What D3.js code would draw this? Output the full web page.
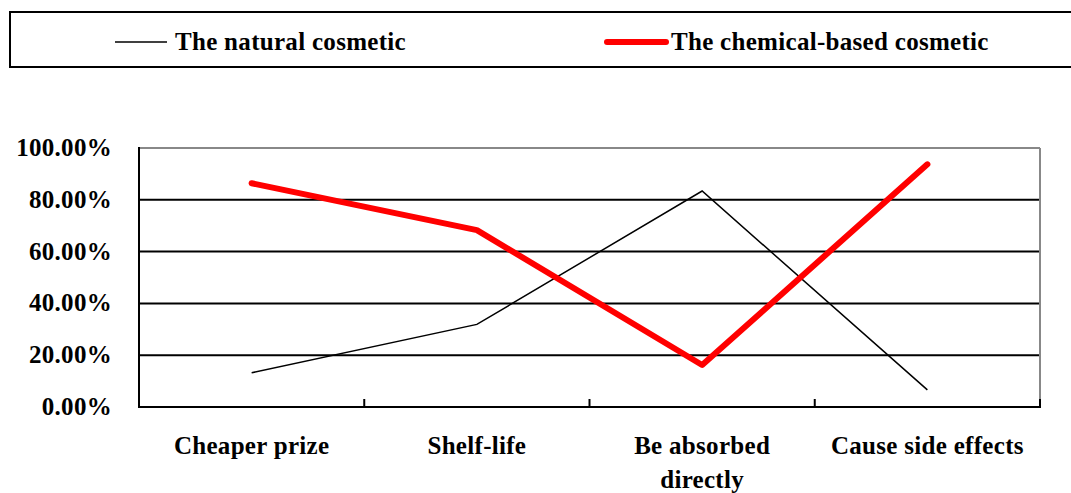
<!DOCTYPE html>
<html>
<head>
<meta charset="utf-8">
<script src="https://d3js.org/d3.v7.min.js"></script>
<style>
  body { margin: 0; background: #fff; }
  text { font-family: "Liberation Serif", "Times New Roman", serif; font-weight: bold; letter-spacing: 0.3px; }
</style>
</head>
<body>
<script>
// data
var categories = ["Cheaper prize", "Shelf-life", "Be absorbed directly", "Cause side effects"];
var natural = [0.132, 0.319, 0.834, 0.066];
var chemical = [0.864, 0.683, 0.162, 0.937];
var yTicks = [0, 0.2, 0.4, 0.6, 0.8, 1.0];
var seriesNames = ["The natural cosmetic", "The chemical-based cosmetic"];

var width = 1071, height = 493;
var plotLeft = 139, plotRight = 1040, plotTop = 148, plotBottom = 407;
var fontSize = "25px";

var svg = d3.select("body").append("svg")
  .attr("width", width).attr("height", height);

// legend box
svg.append("rect")
  .attr("x", 10).attr("y", 12).attr("width", 1080).attr("height", 55)
  .attr("fill", "none").attr("stroke", "#000").attr("stroke-width", 2);

var legend = [
  {name: seriesNames[0], color: "#000", w: 1.5, x1: 115, x2: 167, tx: 175},
  {name: seriesNames[1], color: "#ff0000", w: 6, x1: 607, x2: 666, tx: 671}
];
legend.forEach(function(d) {
  svg.append("line")
    .attr("x1", d.x1).attr("x2", d.x2).attr("y1", 42).attr("y2", 42)
    .attr("stroke", d.color).attr("stroke-width", d.w).attr("stroke-linecap", d.w > 2 ? "round" : "butt");
  svg.append("text")
    .attr("x", d.tx).attr("y", 50)
    .style("font-size", fontSize)
    .text(d.name);
});

var x = d3.scaleBand().domain(categories).range([plotLeft, plotRight]).padding(0);
var y = d3.scaleLinear().domain([0, 1]).range([plotBottom, plotTop]);

// gridlines
svg.selectAll(".grid")
  .data(yTicks.filter(function(t) { return t > 0 && t < 1; }))
  .enter().append("line")
  .attr("x1", plotLeft).attr("x2", plotRight)
  .attr("y1", function(d) { return y(d); }).attr("y2", function(d) { return y(d); })
  .attr("stroke", "#000").attr("stroke-width", 2);

// grey top and right frame
svg.append("line").attr("x1", plotLeft).attr("x2", plotRight).attr("y1", y(1)).attr("y2", y(1))
  .attr("stroke", "#888").attr("stroke-width", 2);
svg.append("line").attr("x1", plotRight).attr("x2", plotRight).attr("y1", plotTop).attr("y2", plotBottom)
  .attr("stroke", "#888").attr("stroke-width", 2);

// y axis
svg.append("line").attr("x1", plotLeft).attr("x2", plotLeft).attr("y1", plotTop - 1).attr("y2", plotBottom + 1)
  .attr("stroke", "#000").attr("stroke-width", 2);
svg.selectAll(".ylab")
  .data(yTicks)
  .enter().append("text")
  .attr("x", 112).attr("y", function(d) { return y(d) + 8; })
  .attr("text-anchor", "end")
  .style("font-size", fontSize)
  .text(function(d) { return (d * 100).toFixed(2) + "%"; });

// x axis
svg.append("line").attr("x1", plotLeft).attr("x2", plotRight + 1).attr("y1", plotBottom).attr("y2", plotBottom)
  .attr("stroke", "#000").attr("stroke-width", 2);
var tickXs = categories.map(function(c) { return x(c) + x.bandwidth(); });
svg.selectAll(".xtick")
  .data(tickXs)
  .enter().append("line")
  .attr("x1", function(d) { return d; }).attr("x2", function(d) { return d; })
  .attr("y1", plotBottom).attr("y2", plotBottom - 8)
  .attr("stroke", "#000").attr("stroke-width", 2);

var lab = svg.selectAll(".xlab")
  .data(categories)
  .enter().append("text")
  .attr("x", function(d) { return x(d) + x.bandwidth() / 2; })
  .attr("y", 454)
  .attr("text-anchor", "middle")
  .style("font-size", fontSize);
lab.each(function(d) {
  var parts = d === "Be absorbed directly" ? ["Be absorbed", "directly"] : [d];
  var t = d3.select(this);
  parts.forEach(function(p, i) {
    t.append("tspan")
      .attr("x", x(d) + x.bandwidth() / 2)
      .attr("dy", i === 0 ? 0 : 34)
      .text(p);
  });
});

var line = d3.line()
  .x(function(d, i) { return x(categories[i]) + x.bandwidth() / 2; })
  .y(function(d) { return y(d); });

svg.append("path").datum(natural)
  .attr("d", line).attr("fill", "none")
  .attr("stroke", "#000").attr("stroke-width", 1.5);

svg.append("path").datum(chemical)
  .attr("d", line).attr("fill", "none")
  .attr("stroke", "#ff0000").attr("stroke-width", 6)
  .attr("stroke-linecap", "round").attr("stroke-linejoin", "round");
</script>
</body>
</html>
